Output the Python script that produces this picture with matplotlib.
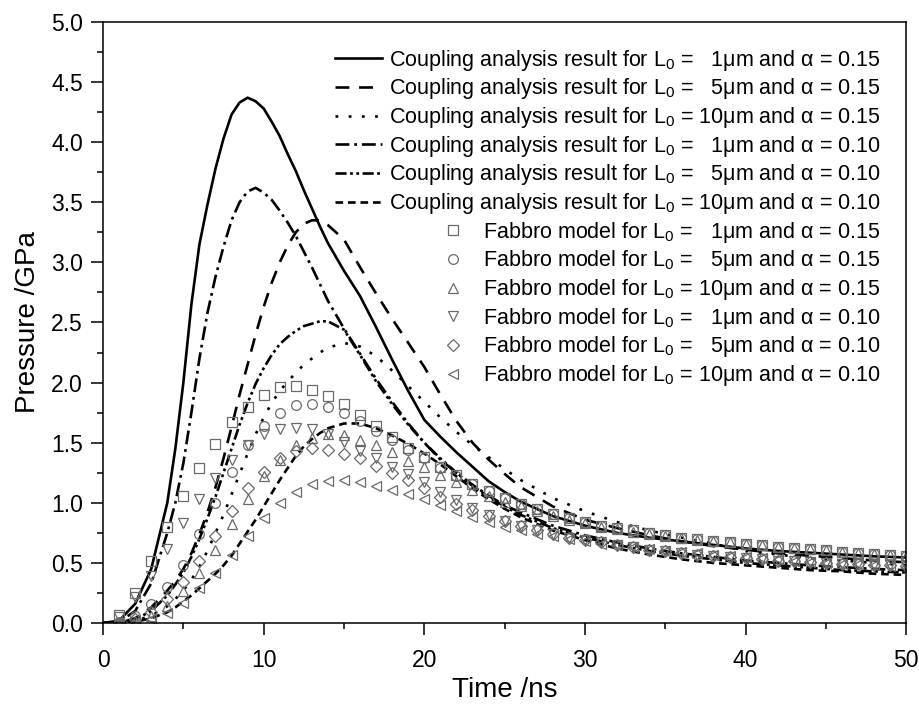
import matplotlib
matplotlib.use("Agg")
import matplotlib.pyplot as plt
from matplotlib.ticker import MultipleLocator, FormatStrFormatter

plt.rcParams['font.family'] = ['Liberation Sans', 'DejaVu Sans']
plt.rcParams['mathtext.fontset'] = 'custom'
plt.rcParams['mathtext.rm'] = 'Liberation Sans'
plt.rcParams['mathtext.it'] = 'Liberation Sans:italic'
plt.rcParams['lines.scale_dashes'] = False

# ---------------- data ----------------
t_line = [0, 1, 2, 3, 4, 4.5, 5, 5.5, 6, 6.5, 7, 7.5, 8, 8.5, 9, 9.5, 10, 10.5, 11, 11.5,
          12, 12.5, 13, 13.5, 14, 15, 16, 17, 18, 19, 20, 21, 22, 23, 24, 25, 26,
          28, 30, 32, 34, 36, 38, 40, 42, 44, 46, 48, 50]

cpl_L1_a15 = [0, 0.02, 0.16, 0.45, 1.00, 1.45, 2.00, 2.65, 3.15, 3.48, 3.78, 4.03, 4.23, 4.33,
              4.37, 4.34, 4.28, 4.17, 4.05, 3.90, 3.76, 3.60, 3.45, 3.30, 3.16,
              2.93, 2.72, 2.46, 2.19, 1.93, 1.69, 1.55, 1.42, 1.30, 1.18, 1.09, 1.01,
              0.89, 0.81, 0.75, 0.71, 0.68, 0.65, 0.62, 0.60, 0.585, 0.57, 0.555, 0.545]
cpl_L5_a15 = [0, 0.0, 0.04, 0.13, 0.27, 0.35, 0.45, 0.58, 0.74, 0.92, 1.13, 1.37, 1.63, 1.90,
              2.15, 2.40, 2.63, 2.83, 3.00, 3.14, 3.25, 3.32, 3.35, 3.35, 3.31,
              3.19, 2.96, 2.74, 2.53, 2.33, 2.13, 1.90, 1.68, 1.50, 1.36, 1.24, 1.13,
              0.97, 0.86, 0.79, 0.73, 0.68, 0.64, 0.61, 0.58, 0.56, 0.54, 0.52, 0.505]
cpl_L10_a15 = [0, 0.0, 0.02, 0.06, 0.14, 0.20, 0.27, 0.36, 0.47, 0.60, 0.75, 0.90, 1.07, 1.24,
               1.41, 1.57, 1.71, 1.83, 1.93, 2.01, 2.08, 2.15, 2.20, 2.25, 2.29,
               2.33, 2.30, 2.22, 2.10, 1.97, 1.84, 1.71, 1.59, 1.48, 1.38, 1.28, 1.19,
               1.04, 0.93, 0.84, 0.77, 0.71, 0.66, 0.60, 0.57, 0.54, 0.52, 0.50, 0.48]
cpl_L1_a10 = [0, 0.01, 0.10, 0.33, 0.75, 1.00, 1.33, 1.75, 2.20, 2.58, 2.88, 3.13, 3.35, 3.50,
              3.59, 3.62, 3.58, 3.52, 3.43, 3.33, 3.22, 3.09, 2.96, 2.82, 2.68,
              2.45, 2.24, 2.03, 1.84, 1.66, 1.50, 1.36, 1.25, 1.15, 1.06, 0.98, 0.92,
              0.81, 0.73, 0.67, 0.62, 0.58, 0.55, 0.52, 0.50, 0.48, 0.465, 0.45, 0.44]
cpl_L5_a10 = [0, 0.0, 0.03, 0.10, 0.23, 0.32, 0.42, 0.55, 0.70, 0.87, 1.05, 1.25, 1.45, 1.65,
              1.83, 1.99, 2.12, 2.23, 2.32, 2.38, 2.43, 2.47, 2.49, 2.51, 2.51,
              2.44, 2.23, 2.01, 1.82, 1.65, 1.50, 1.37, 1.25, 1.14, 1.05, 0.97, 0.90,
              0.79, 0.71, 0.65, 0.60, 0.56, 0.53, 0.50, 0.48, 0.46, 0.44, 0.43, 0.42]
cpl_L10_a10 = [0, 0.0, 0.01, 0.04, 0.09, 0.13, 0.18, 0.23, 0.29, 0.35, 0.41, 0.48, 0.56, 0.66,
               0.76, 0.86, 0.97, 1.08, 1.19, 1.29, 1.39, 1.47, 1.53, 1.58, 1.62,
               1.66, 1.66, 1.62, 1.56, 1.49, 1.41, 1.32, 1.22, 1.12, 1.03, 0.95, 0.88,
               0.77, 0.69, 0.62, 0.57, 0.53, 0.50, 0.48, 0.46, 0.44, 0.43, 0.41, 0.40]

t_mark = list(range(1, 51))
fab_L1_a15 = [0.07, 0.25, 0.52, 0.80, 1.06, 1.29, 1.49, 1.67, 1.80, 1.90,
              1.96, 1.97, 1.94, 1.89, 1.82, 1.73, 1.64, 1.55, 1.46, 1.38,
              1.30, 1.23, 1.16, 1.10, 1.04, 0.99, 0.95, 0.91, 0.87, 0.84,
              0.81, 0.79, 0.77, 0.75, 0.73, 0.71, 0.70, 0.68, 0.67, 0.66,
              0.645, 0.635, 0.625, 0.615, 0.605, 0.595, 0.585, 0.575, 0.57, 0.56]
fab_L5_a15 = [0.01, 0.06, 0.16, 0.30, 0.48, 0.74, 1.00, 1.26, 1.48, 1.64,
              1.75, 1.81, 1.82, 1.80, 1.75, 1.68, 1.60, 1.52, 1.44, 1.37,
              1.29, 1.22, 1.16, 1.10, 1.04, 0.99, 0.95, 0.91, 0.87, 0.84,
              0.81, 0.79, 0.77, 0.75, 0.73, 0.71, 0.70, 0.68, 0.67, 0.66,
              0.645, 0.635, 0.625, 0.615, 0.605, 0.595, 0.585, 0.575, 0.57, 0.56]
fab_L10_a15 = [0.00, 0.02, 0.06, 0.14, 0.27, 0.42, 0.61, 0.82, 1.03, 1.22,
               1.36, 1.48, 1.54, 1.57, 1.56, 1.52, 1.48, 1.42, 1.35, 1.30,
               1.23, 1.17, 1.11, 1.06, 1.01, 0.97, 0.93, 0.89, 0.86, 0.83,
               0.80, 0.78, 0.76, 0.74, 0.72, 0.71, 0.69, 0.68, 0.67, 0.655,
               0.645, 0.635, 0.625, 0.615, 0.605, 0.595, 0.585, 0.575, 0.57, 0.56]
fab_L1_a10 = [0.05, 0.22, 0.39, 0.62, 0.83, 1.03, 1.21, 1.36, 1.48, 1.57,
              1.61, 1.62, 1.61, 1.57, 1.51, 1.43, 1.37, 1.30, 1.24, 1.17,
              1.09, 1.02, 0.96, 0.90, 0.85, 0.81, 0.77, 0.74, 0.71, 0.69,
              0.67, 0.65, 0.63, 0.61, 0.60, 0.585, 0.57, 0.56, 0.55, 0.54,
              0.53, 0.52, 0.515, 0.51, 0.50, 0.495, 0.49, 0.485, 0.48, 0.475]
fab_L5_a10 = [0.00, 0.03, 0.09, 0.20, 0.34, 0.52, 0.72, 0.93, 1.12, 1.26,
              1.37, 1.43, 1.46, 1.44, 1.41, 1.37, 1.31, 1.25, 1.19, 1.12,
              1.05, 0.99, 0.94, 0.89, 0.85, 0.81, 0.77, 0.74, 0.71, 0.69,
              0.67, 0.65, 0.63, 0.61, 0.60, 0.585, 0.57, 0.56, 0.55, 0.54,
              0.53, 0.52, 0.515, 0.51, 0.50, 0.495, 0.49, 0.485, 0.48, 0.475]
fab_L10_a10 = [0.00, 0.01, 0.03, 0.08, 0.17, 0.29, 0.42, 0.57, 0.72, 0.87,
               1.00, 1.09, 1.16, 1.18, 1.19, 1.17, 1.14, 1.11, 1.07, 1.03,
               0.98, 0.93, 0.88, 0.84, 0.80, 0.77, 0.74, 0.72, 0.70, 0.68,
               0.66, 0.645, 0.63, 0.615, 0.60, 0.59, 0.58, 0.57, 0.56, 0.55,
               0.54, 0.53, 0.52, 0.51, 0.50, 0.495, 0.49, 0.48, 0.475, 0.47]

line_labels = [
    "Coupling analysis result for L$_0$ =   1μm and α = 0.15",
    "Coupling analysis result for L$_0$ =   5μm and α = 0.15",
    "Coupling analysis result for L$_0$ = 10μm and α = 0.15",
    "Coupling analysis result for L$_0$ =   1μm and α = 0.10",
    "Coupling analysis result for L$_0$ =   5μm and α = 0.10",
    "Coupling analysis result for L$_0$ = 10μm and α = 0.10",
]
marker_labels = [
    "Fabbro model for L$_0$ =   1μm and α = 0.15",
    "Fabbro model for L$_0$ =   5μm and α = 0.15",
    "Fabbro model for L$_0$ = 10μm and α = 0.15",
    "Fabbro model for L$_0$ =   1μm and α = 0.10",
    "Fabbro model for L$_0$ =   5μm and α = 0.10",
    "Fabbro model for L$_0$ = 10μm and α = 0.10",
]
x_label = "Time /ns"
y_label = "Pressure /GPa"

# ---------------- plot ----------------
fig = plt.figure(figsize=(9.2, 7.08), dpi=100)
ax = fig.add_axes([0.112, 0.120, 0.873, 0.849])

line_series = [cpl_L1_a15, cpl_L5_a15, cpl_L10_a15, cpl_L1_a10, cpl_L5_a10, cpl_L10_a10]
dash_styles = ['-', (0, (10, 7)), (0, (2, 7.5)), (0, (10, 3.5, 2, 3.5)),
               (0, (8, 2.5, 2, 2.5, 2, 2.5)), (0, (5.5, 3.5))]
handles = []
for ys, ds, lab in zip(line_series, dash_styles, line_labels):
    h, = ax.plot(t_line, ys, color='black', lw=1.9, linestyle=ds, label=lab)
    handles.append(h)

mark_series = [fab_L1_a15, fab_L5_a15, fab_L10_a15, fab_L1_a10, fab_L5_a10, fab_L10_a10]
mark_shapes = ['s', 'o', '^', 'v', 'D', '<']
mark_sizes = [6.5, 7, 7.5, 7.5, 6, 7.5]
for ys, mk, ms, lab in zip(mark_series, mark_shapes, mark_sizes, marker_labels):
    h, = ax.plot(t_mark, ys, linestyle='none', marker=mk, ms=ms, mfc='none',
                 mec='#6a6a6a', mew=0.9, label=lab)
    handles.append(h)

ax.set_xlim(0, 50)
ax.set_ylim(0, 5)
ax.xaxis.set_major_locator(MultipleLocator(10))
ax.xaxis.set_minor_locator(MultipleLocator(5))
ax.yaxis.set_major_locator(MultipleLocator(0.5))
ax.yaxis.set_minor_locator(MultipleLocator(0.25))
ax.yaxis.set_major_formatter(FormatStrFormatter('%.1f'))
ax.tick_params(which='major', direction='out', length=8.5, width=1.1, labelsize=16.5)
ax.tick_params(axis='y', which='major', pad=6)
ax.tick_params(axis='x', which='major', pad=10)
ax.tick_params(which='minor', direction='out', length=4.5, width=1.1)
for sp in ax.spines.values():
    sp.set_linewidth(1.1)

ax.set_xlabel(x_label, fontsize=20, labelpad=4)
ax.set_ylabel(y_label, fontsize=20, labelpad=7)

leg = ax.legend(handles=handles, loc='upper right', frameon=False, fontsize=15.5,
                handlelength=2.2, handletextpad=0.3, labelspacing=0.17, numpoints=1,
                borderaxespad=0.8, borderpad=0.4)
for col in leg._legend_handle_box.get_children():
    col.align = 'right'

fig.savefig('out.png', dpi=100)
